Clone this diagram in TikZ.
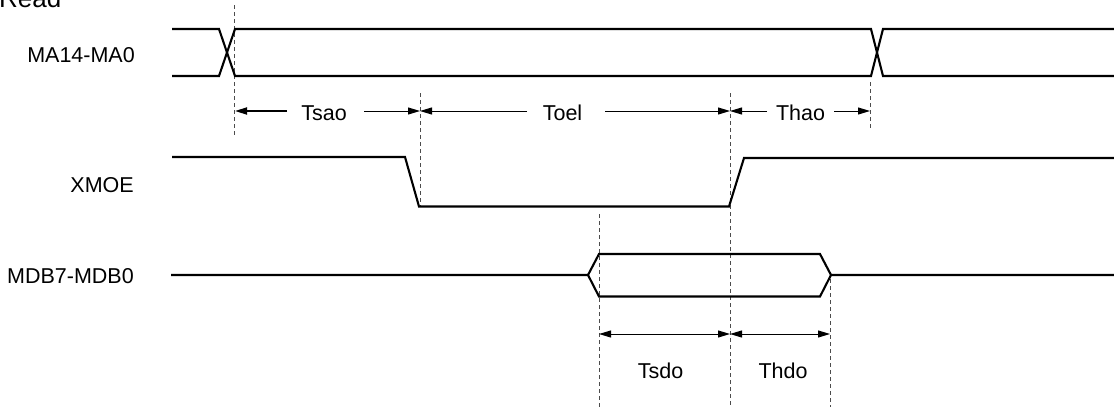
\documentclass[tikz,border=0pt]{standalone}
\usepackage{fontspec}
\setmainfont{Liberation Sans}
\usetikzlibrary{arrows.meta}
\begin{document}
\begin{tikzpicture}[x=1pt,y=-1pt,
  sig/.style={line width=2.1pt, line join=miter},
  dim/.style={line width=1pt},
  guide/.style={line width=1pt, dash pattern=on 4pt off 3pt, black!70},
  tipend/.style={-{Triangle[length=12pt,width=7pt]}},
  tipboth/.style={{Triangle[length=12pt,width=7pt]}-{Triangle[length=12pt,width=7pt]}},
  lbl/.style={font=\fontsize{21.5}{26}\selectfont, inner sep=0pt}]
\useasboundingbox (0,0) rectangle (1114,410);

% labels
\node[lbl, anchor=base west, font=\fontsize{26}{30}\selectfont] (read) at (-1,7) {Read};
\node[lbl, anchor=base east] (ma) at (135,62.5) {MA14-MA0};
\node[lbl, anchor=base east] (xmoe) at (134,192) {XMOE};
\node[lbl, anchor=base east] (mdb) at (134,283) {MDB7-MDB0};

% guide coordinates
\coordinate (g1t) at (234,5);   \coordinate (g1b) at (234,135);
\coordinate (g2t) at (420,93);  \coordinate (g2b) at (420,206);
\coordinate (g3t) at (730,93);  \coordinate (g3b) at (730,407);
\coordinate (g4t) at (870,82);  \coordinate (g4b) at (870,128);
\coordinate (g5t) at (599,214); \coordinate (g5b) at (599,407);
\coordinate (g6t) at (830,272); \coordinate (g6b) at (830,407);

\draw[guide] (g1t) -- (g1b);
\draw[guide] (g2t) -- (g2b);
\draw[guide] (g3t) -- (g3b);
\draw[guide] (g4t) -- (g4b);
\draw[guide] (g5t) -- (g5b);
\draw[guide] (g6t) -- (g6b);

% MA14-MA0 bus
\draw[sig] (172,29) -- (219,29) -- (235,76) -- (871,76) -- (883,29) -- (1114,29);
\draw[sig] (172,76) -- (219,76) -- (235,29) -- (871,29) -- (883,76) -- (1114,76);

% XMOE
\draw[sig] (172,157) -- (405,157) -- (419,206.5) -- (729,206.5) -- (744,158) -- (1114,158);

% MDB7-MDB0
\draw[sig] (171,275) -- (588,275) -- (599,254) -- (820,254) -- (831,275) -- (1114,275);
\draw[sig] (588,275) -- (599,296.5) -- (820,296.5) -- (831,275);

% timing row 1
\coordinate (a1) at (235,111); \coordinate (a1s) at (287,111);
\coordinate (a2) at (420,111); \coordinate (a2s) at (364,111);
\coordinate (a3s) at (527,111);
\coordinate (a4) at (730,111); \coordinate (a4s) at (605,111);
\coordinate (a5s) at (767,111);
\coordinate (a6) at (870,111); \coordinate (a6s) at (834,111);
\draw[dim,line width=1.8pt,tipend] (a1s) -- (a1);
\draw[dim,tipend] (a2s) -- (a2);
\draw[dim,tipend] (a3s) -- (a2);
\draw[dim,tipend] (a4s) -- (a4);
\draw[dim,tipend] (a5s) -- (a4);
\draw[dim,tipend] (a6s) -- (a6);
\node[lbl, anchor=base] (tsao) at (324,120) {Tsao};
\node[lbl, anchor=base] (toel) at (562.5,120) {Toel};
\node[lbl, anchor=base] (thao) at (800.5,120) {Thao};

% timing row 2
\coordinate (b1) at (599,334); \coordinate (b2) at (730,334); \coordinate (b3) at (830,334);
\draw[dim,tipboth] (b1) -- (b2);
\draw[dim,tipboth] (b2) -- (b3);
\node[lbl, anchor=base] (tsdo) at (660.5,378) {Tsdo};
\node[lbl, anchor=base] (thdo) at (783,378) {Thdo};
\end{tikzpicture}
\end{document}
